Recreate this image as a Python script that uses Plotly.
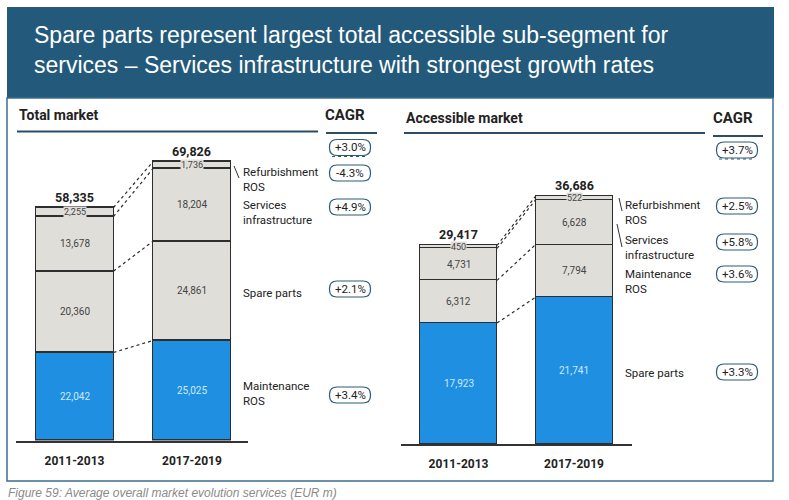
import plotly.graph_objects as go

# ---------------- data ----------------
periods = ["2011-2013", "2017-2019"]

# Total market (EUR m)
total_maint = [22042, 25025]
total_spare = [20360, 24861]
total_services = [13678, 18204]
total_refurb = [2255, 1736]
total_sum = [58335, 69826]
total_labels = ["Refurbishment<br>ROS", "Services<br>infrastructure", "Spare parts", "Maintenance<br>ROS"]
total_cagr = ["+3.0%", "-4.3%", "+4.9%", "+2.1%", "+3.4%"]

# Accessible market (EUR m)
acc_spare = [17923, 21741]
acc_maint = [6312, 7794]
acc_services = [4731, 6628]
acc_refurb = [450, 522]
acc_sum = [29417, 36686]
acc_labels = ["Refurbishment<br>ROS", "Services<br>infrastructure", "Maintenance<br>ROS", "Spare parts"]
acc_cagr = ["+3.7%", "+2.5%", "+5.8%", "+3.6%", "+3.3%"]

# ---------------- styling ----------------
W, H = 789, 500
BLUE = "#1f8fe2"
GREY = "#e0ded9"
OUT = "#2e2e2e"
HEAD = "#235a7b"
FRAME = "#3b6f8f"
NARROW = "Roboto, Arial, sans-serif"
SANS = "Liberation Sans, Arial, sans-serif"


def px(x):
    return x / W


def py(y):
    return 1 - y / H


fig = go.Figure()
shapes = []
ann = []

BW_L = 0.664
BW_R = 0.667


def add_stack(xa, ya, segs, width, totals):
    xs = [0, 1]
    for vals, col, txtcol in segs:
        fig.add_trace(go.Bar(
            x=xs, y=vals, width=width, marker=dict(color=col, line=dict(color=OUT, width=1.3)),
            xaxis=xa, yaxis=ya, showlegend=False, hoverinfo="skip"))
    cum = [[0, 0]]
    for vals, _, _ in segs:
        cum.append([cum[-1][i] + vals[i] for i in range(2)])
    for lvl in cum[1:]:
        fig.add_trace(go.Scatter(
            x=[width / 2, 1 - width / 2], y=[lvl[0], lvl[1]], mode="lines",
            line=dict(color=OUT, width=1.2, dash="dot"),
            xaxis=xa, yaxis=ya, showlegend=False, hoverinfo="skip"))
    xref = "x" if xa == "x" else "x2"
    yref = "y" if ya == "y" else "y2"
    for k, (vals, col, txtcol) in enumerate(segs):
        for i in range(2):
            mid = cum[k][i] + vals[i] / 2
            small = k == len(segs) - 1
            ann.append(dict(
                x=i, y=mid, xref=xref, yref=yref, text=f"{vals[i]:,}", showarrow=False,
                xanchor="center", yanchor="middle",
                font=dict(family=NARROW, size=9 if small else 10, color=txtcol),
                bgcolor=GREY if small else None, borderpad=0))
    for i in range(2):
        ann.append(dict(
            x=i, y=cum[-1][i], xref=xref, yref=yref, text=f"<b>{totals[i]:,}</b>", showarrow=False,
            xanchor="center", yanchor="bottom", yshift=1,
            font=dict(family=NARROW, size=12.5, color="#222")))


add_stack("x", "y",
          [(total_maint, BLUE, "#cfe9ff"), (total_spare, GREY, "#444"),
           (total_services, GREY, "#444"), (total_refurb, GREY, "#444")],
          BW_L, total_sum)
add_stack("x2", "y2",
          [(acc_spare, BLUE, "#cfe9ff"), (acc_maint, GREY, "#444"),
           (acc_services, GREY, "#444"), (acc_refurb, GREY, "#444")],
          BW_R, acc_sum)

axis_x = dict(tickvals=[0, 1], ticktext=[f"<b>{p}</b>" for p in periods], showgrid=False,
              zeroline=False, showline=True, linecolor="#333", linewidth=2, ticks="",
              tickfont=dict(family=NARROW, size=12, color="#222"), ticklabelstandoff=8,
              fixedrange=True)
axis_y = dict(visible=False, showgrid=False, zeroline=False, fixedrange=True)

fig.update_layout(
    width=W, height=H, margin=dict(l=0, r=0, t=0, b=0),
    paper_bgcolor="white", plot_bgcolor="rgba(0,0,0,0)",
    barmode="stack", bargap=0,
    xaxis=dict(axis_x, domain=[px(16), px(248)], range=[-0.498, 1.477]),
    yaxis=dict(axis_y, domain=[py(440.5), py(140.5)], range=[0, 300 / 0.003994]),
    xaxis2=dict(axis_x, domain=[px(401), px(632)], range=[-0.498, 1.502], anchor="y2"),
    yaxis2=dict(axis_y, domain=[py(444), py(144)], range=[0, 300 / 0.00675], anchor="x2"),
)

# ---------------- header & frame ----------------
shapes.append(dict(type="rect", xref="paper", yref="paper", x0=px(7), x1=px(774), y0=py(98), y1=py(7),
                   fillcolor=HEAD, line=dict(width=0), layer="below"))
shapes.append(dict(type="rect", xref="paper", yref="paper", x0=px(7), x1=px(773), y0=py(481), y1=py(98),
                   fillcolor="rgba(0,0,0,0)", line=dict(color=FRAME, width=1.5), layer="below"))
ann.append(dict(x=px(32), y=py(50), xref="paper", yref="paper", xanchor="left", yanchor="middle",
                align="left", showarrow=False,
                text="Spare parts represent largest total accessible sub-segment for<br>"
                     "services \u2013 Services infrastructure with strongest growth rates",
                font=dict(family=SANS, size=23, color="white")))

# panel titles
for x, y, t in [(17, 115, "Total market"), (404, 118, "Accessible market")]:
    ann.append(dict(x=px(x), y=py(y), xref="paper", yref="paper", xanchor="left", yanchor="middle",
                    showarrow=False, text=f"<b>{t}</b>", font=dict(family=NARROW, size=14, color="#222")))
for x, y in [(345, 115), (733, 118)]:
    ann.append(dict(x=px(x), y=py(y), xref="paper", yref="paper", xanchor="center", yanchor="middle",
                    showarrow=False, text="<b>CAGR</b>", font=dict(family=NARROW, size=15, color="#222")))
for x0, x1, y in [(17, 318, 131.5), (326, 377, 133), (404, 705, 133), (713, 763, 136)]:
    shapes.append(dict(type="line", xref="paper", yref="paper", x0=px(x0), x1=px(x1), y0=py(y), y1=py(y),
                       line=dict(color="#2d4d66", width=2)))

# segment name labels
for t, y in zip(total_labels, [179, 213, 293, 393]):
    ann.append(dict(x=px(241), y=py(y), xref="paper", yref="paper", xanchor="left", yanchor="middle",
                    align="left", showarrow=False, text=t,
                    font=dict(family=NARROW, size=11.5, color="#222")))
for t, y in zip(acc_labels, [213, 247, 281, 373]):
    ann.append(dict(x=px(623), y=py(y), xref="paper", yref="paper", xanchor="left", yanchor="middle",
                    align="left", showarrow=False, text=t,
                    font=dict(family=NARROW, size=11.5, color="#222")))
for x0, y0, x1, y1 in [(234, 166, 239, 178), (619, 198, 622, 211), (617, 224, 622, 247)]:
    shapes.append(dict(type="line", xref="paper", yref="paper", x0=px(x0), x1=px(x1), y0=py(y0), y1=py(y1),
                       line=dict(color="#333", width=1)))


# CAGR pills
def pill(cx, cy, w=41, h=16, r=7.5):
    x0, x1, y0, y1 = cx - w / 2, cx + w / 2, cy - h / 2, cy + h / 2
    pts = [("M", x0 + r, y0), ("L", x1 - r, y0), ("Q", x1, y0, x1, y0 + r), ("L", x1, y1 - r),
           ("Q", x1, y1, x1 - r, y1), ("L", x0 + r, y1), ("Q", x0, y1, x0, y1 - r), ("L", x0, y0 + r),
           ("Q", x0, y0, x0 + r, y0)]
    parts = []
    for p in pts:
        coords = p[1:]
        s = [f"{px(coords[j]):.5f},{py(coords[j + 1]):.5f}" for j in range(0, len(coords), 2)]
        parts.append(p[0] + " " + " ".join(s))
    return " ".join(parts) + " Z"


for vals, cx, ys in [(total_cagr, 350, [147.5, 173, 207, 289, 395]),
                     (acc_cagr, 737, [150, 206, 242, 274, 372])]:
    for v, cy in zip(vals, ys):
        shapes.append(dict(type="path", xref="paper", yref="paper", path=pill(cx, cy),
                           line=dict(color="#2c5a78", width=1.2), fillcolor="white"))
        ann.append(dict(x=px(cx), y=py(cy), xref="paper", yref="paper", showarrow=False, text=v,
                        xanchor="center", yanchor="middle",
                        font=dict(family=NARROW, size=11.5, color="#222")))
    dy = ys[0] + 9
    shapes.append(dict(type="line", xref="paper", yref="paper", x0=px(cx - 18), x1=px(cx + 18),
                       y0=py(dy), y1=py(dy), line=dict(color="#2c5a78", width=1, dash="dot")))

# caption
ann.append(dict(x=px(6), y=py(484), xref="paper", yref="paper", xanchor="left", yanchor="top",
                showarrow=False, text="<i>Figure 59: Average overall market evolution services (EUR m)</i>",
                font=dict(family=SANS, size=12, color="#8a8a8a")))

fig.update_layout(shapes=shapes, annotations=ann)
fig.write_html("out.html")
